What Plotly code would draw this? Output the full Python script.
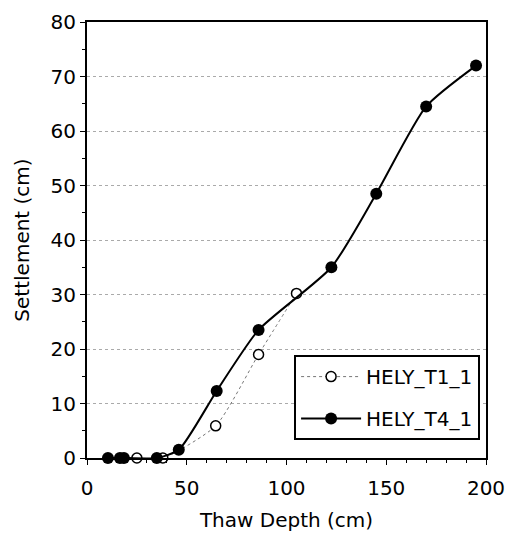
import plotly.graph_objects as go

t1_x = [25, 38, 64.5, 86, 105]
t1_y = [0, 0, 5.9, 19, 30.2]
t4_x = [10.5, 16.5, 18.5, 35, 46, 65, 86, 122.5, 145, 170, 195]
t4_y = [0, 0, 0, 0, 1.5, 12.3, 23.5, 35, 48.5, 64.5, 72]
x_ticks = [0, 50, 100, 150, 200]
y_ticks = [0, 10, 20, 30, 40, 50, 60, 70, 80]

font = "DejaVu Sans, sans-serif"

fig = go.Figure()
fig.add_trace(go.Scatter(
    x=t1_x, y=t1_y, name="HELY_T1_1", mode="lines+markers", legendgroup="a",
    line=dict(color="#777777", width=1, dash="dot", shape="spline", smoothing=0.6),
    marker=dict(symbol="circle", size=10, color="white", line=dict(color="black", width=1.5)),
    cliponaxis=False,
))
fig.add_trace(go.Scatter(
    x=t4_x, y=t4_y, name="HELY_T4_1", mode="lines+markers", legendgroup="b",
    line=dict(color="black", width=2, shape="spline", smoothing=0.6),
    marker=dict(symbol="circle", size=12, color="black"),
    cliponaxis=False,
))

fig.update_layout(
    width=509, height=535,
    margin=dict(l=87, r=23, t=22, b=77),
    paper_bgcolor="white", plot_bgcolor="white",
    font=dict(family=font, size=20, color="black"),
    showlegend=True,
    legend=dict(
        x=0.519, y=0.236, xanchor="left", yanchor="top",
        bgcolor="white", bordercolor="black", borderwidth=2,
        font=dict(size=20), tracegroupgap=13, itemwidth=60,
    ),
    xaxis=dict(
        range=[0, 200], tickvals=x_ticks, ticks="outside", ticklen=5,
        tickcolor="black", showline=True, linecolor="black", linewidth=2,
        mirror=True, showgrid=False, zeroline=False, automargin=False,
        ticklabelstandoff=6,
        title=dict(text="Thaw Depth (cm)", font=dict(size=20), standoff=14),
        minor=dict(dtick=10, ticks="outside", ticklen=3, tickcolor="black"),
    ),
    yaxis=dict(
        range=[0, 80], tickvals=y_ticks, ticks="outside", ticklen=5,
        tickcolor="black", showline=True, linecolor="black", linewidth=2,
        mirror=True, showgrid=True, gridcolor="#aaaaaa", griddash="dot",
        gridwidth=1, zeroline=False, automargin=False,
        title=dict(text="Settlement (cm)", font=dict(size=20), standoff=16),
        minor=dict(dtick=5, ticks="outside", ticklen=3, tickcolor="black"),
    ),
)

fig.write_html("out.html", config={"displayModeBar": False},
               post_script="document.body.style.margin='0';")
